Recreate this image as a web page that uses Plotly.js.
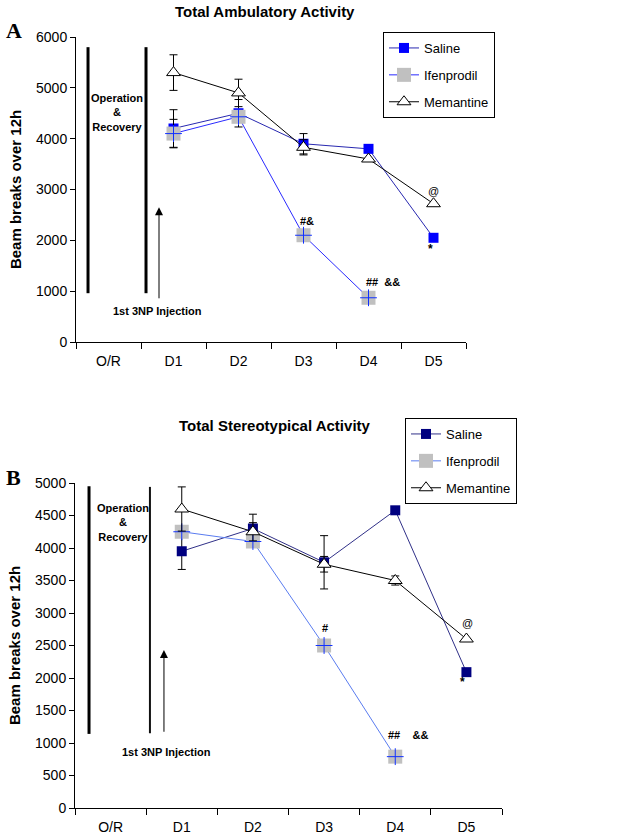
<!DOCTYPE html>
<html><head><meta charset="utf-8">
<script src="https://cdn.plot.ly/plotly-3.0.1.min.js"></script>
<style>html,body{margin:0;padding:0;background:#fff}#chart{width:636px;height:840px}</style>
</head><body><div id="chart"></div>
<script>
const days = ['O/R','D1','D2','D3','D4','D5'];
const seriesDays = ['D1','D2','D3','D4','D5'];
const ifenDays = ['D1','D2','D3','D4'];
const seriesNames = ['Saline','Ifenprodil','Memantine'];

// Panel A: Total Ambulatory Activity
const ambSaline = [4200, 4500, 3900, 3800, 2050];
const ambSalineErr = [370, 270, 200, 0, 0];
const ambIfen = [4100, 4430, 2100, 870];
const ambIfenErr = [280, 0, 0, 0];
const ambMem = [5300, 4900, 3830, 3600, 2720];
const ambMemErr = [350, 270, 150, 0, 0];

// Panel B: Total Stereotypical Activity
const stSaline = [3950, 4300, 3780, 4580, 2090];
const stSalineErr = [280, 220, 410, 0, 0];
const stIfen = [4250, 4100, 2500, 790];
const stIfenErr = [0, 0, 0, 0];
const stMem = [4600, 4250, 3750, 3500, 2600];
const stMemErr = [340, 140, 120, 70, 0];

const F = 'Arial, "Liberation Sans", sans-serif';

function err(arr){return {type:'data', array:arr, visible:true, color:'#000', thickness:1, width:4};}

function panel(xa, ya, leg, sal, salE, ifen, ifenE, mem, memE, salCol, salLine, ifenLine){
  return [
    {x:seriesDays, y:sal, name:seriesNames[0], type:'scatter', mode:'lines+markers', xaxis:xa, yaxis:ya, legend:leg, legendgroup:leg+'s',
     line:{color:salLine, width:1}, marker:{symbol:'square', size:10, color:salCol, line:{width:0}}, error_y:err(salE)},
    {x:ifenDays, y:ifen, name:seriesNames[1], type:'scatter', mode:'lines+markers', xaxis:xa, yaxis:ya, legend:leg, legendgroup:leg+'i',
     line:{color:ifenLine, width:1}, marker:{symbol:'square', size:14, color:'#c0c0c0', line:{width:0}}, error_y:err(ifenE)},
    {x:ifenDays, y:ifen, name:'', type:'scatter', mode:'markers', xaxis:xa, yaxis:ya, showlegend:false, hoverinfo:'skip',
     marker:{symbol:'cross-thin', size:12, color:'#0000ff', line:{color:'#1030ff', width:1}}},
    {x:seriesDays, y:mem, name:seriesNames[2], type:'scatter', mode:'lines+markers', xaxis:xa, yaxis:ya, legend:leg, legendgroup:leg+'m',
     line:{color:'#000', width:1}, marker:{symbol:'triangle-up', size:12, color:'#fff', line:{color:'#000', width:1}}, error_y:err(memE)}
  ];
}

const data = [].concat(
  panel('x','y','legend', ambSaline, ambSalineErr, ambIfen, ambIfenErr, ambMem, ambMemErr, '#0000ff', '#2828b0', '#2a2aff'),
  panel('x2','y2','legend2', stSaline, stSalineErr, stIfen, stIfenErr, stMem, stMemErr, '#000080', '#303088', '#5a7cf0')
);

function xax(domain, anchor){
  return {domain:domain, anchor:anchor, type:'category', categoryorder:'array', categoryarray:days, range:[-0.5,5.5],
    tickson:'boundaries', ticks:'outside', ticklen:6, tickcolor:'#000', showline:true, linecolor:'#000', linewidth:1,
    showgrid:false, zeroline:false, tickfont:{family:F, size:14, color:'#000'}, ticklabelstandoff:6, fixedrange:true};
}
function yax(domain, anchor, max, dt){
  return {domain:domain, anchor:anchor, range:[0,max], dtick:dt, tick0:0, ticks:'outside', ticklen:5, tickcolor:'#000',
    showline:true, linecolor:'#000', linewidth:1, showgrid:false, zeroline:false,
    tickfont:{family:F, size:14, color:'#000'},
    title:{text:'Beam breaks over 12h', font:{family:F, size:15, color:'#000', weight:'bold'}, standoff:10}};
}
function legendCfg(x, y){
  return {x:x, y:y, xanchor:'left', yanchor:'top', bordercolor:'#000', borderwidth:1, bgcolor:'#fff',
    font:{family:F, size:13, color:'#000'}, tracegroupgap:7, itemclick:false};
}

const txt = (x,y,xr,yr,t,size,extra) => Object.assign({x:x, y:y, xref:xr, yref:yr, text:t, showarrow:false,
  xanchor:'center', yanchor:'middle', font:{family:F, size:size||11, color:'#000'}}, extra||{});
const serif = {family:'"Liberation Serif", "Times New Roman", serif', size:22, color:'#000'};
const note = {family:F, size:11, color:'#000', weight:'bold'};

const annotations = [
  // titles and panel letters
  txt(265/636, 1-12/840, 'paper','paper','<b>Total Ambulatory Activity</b>', 15),
  txt(275/636, 1-425/840, 'paper','paper','<b>Total Stereotypical Activity</b>', 15),
  txt(14/636, 1-31/840, 'paper','paper','<b>A</b>', 22, {font:serif}),
  txt(14/636, 1-477/840, 'paper','paper','<b>B</b>', 22, {font:serif}),
  // panel A notes
  txt(0.13, 4520, 'x','y','Operation<br>&amp;<br>Recovery', 11, {font:note}),
  txt(0.75, 610, 'x','y','1st 3NP Injection', 11, {font:note}),
  {x:0.777, y:2650, ax:0.777, ay:830, xref:'x', yref:'y', axref:'x', ayref:'y', text:'', showarrow:true, arrowhead:2, arrowsize:1.6, arrowwidth:1, arrowcolor:'#000'},
  txt(3.05, 2380, 'x','y','<b>#&amp;</b>', 11),
  txt(4.22, 1180, 'x','y','<b>##  &amp;&amp;</b>', 11),
  txt(5.0, 2970, 'x','y','@', 11),
  txt(4.96, 1820, 'x','y','<b>*</b>', 12),
  // panel B notes
  txt(0.18, 4400, 'x2','y2','Operation<br>&amp;<br>Recovery', 11, {font:note}),
  txt(0.78, 855, 'x2','y2','1st 3NP Injection', 11, {font:note}),
  {x:0.75, y:2430, ax:0.75, ay:1150, xref:'x2', yref:'y2', axref:'x2', ayref:'y2', text:'', showarrow:true, arrowhead:2, arrowsize:1.6, arrowwidth:1, arrowcolor:'#000'},
  txt(3.01, 2770, 'x2','y2','<b>#</b>', 11),
  txt(4.18, 1120, 'x2','y2','<b>##    &amp;&amp;</b>', 11),
  txt(5.02, 2850, 'x2','y2','@', 11),
  txt(4.95, 1940, 'x2','y2','<b>*</b>', 12)
];

const shapes = [
  {type:'line', xref:'x', yref:'y', x0:-0.315, x1:-0.315, y0:960, y1:5800, line:{color:'#000', width:3}},
  {type:'line', xref:'x', yref:'y', x0:0.577, x1:0.577, y0:960, y1:5800, line:{color:'#000', width:3}},
  {type:'line', xref:'x2', yref:'y2', x0:-0.303, x1:-0.303, y0:1140, y1:4950, line:{color:'#000', width:3}},
  {type:'line', xref:'x2', yref:'y2', x0:0.553, x1:0.553, y0:1150, y1:4940, line:{color:'#111', width:2}}
];

const layout = {
  width:636, height:840, margin:{l:0, r:0, t:0, b:0}, paper_bgcolor:'#fff', plot_bgcolor:'#fff',
  showlegend:true, font:{family:F, color:'#000'},
  xaxis: xax([76/636, 466/636], 'y'),
  yaxis: yax([1-342/840, 1-37/840], 'x', 6000, 1000),
  xaxis2: xax([75/636, 502/636], 'y2'),
  yaxis2: yax([1-808/840, 1-483/840], 'x2', 5000, 500),
  legend: legendCfg(383/636, 1-32/840),
  legend2: legendCfg(405/636, 1-418/840),
  annotations: annotations, shapes: shapes
};

Plotly.newPlot('chart', data, layout, {staticPlot:true, displayModeBar:false});
</script></body></html>
